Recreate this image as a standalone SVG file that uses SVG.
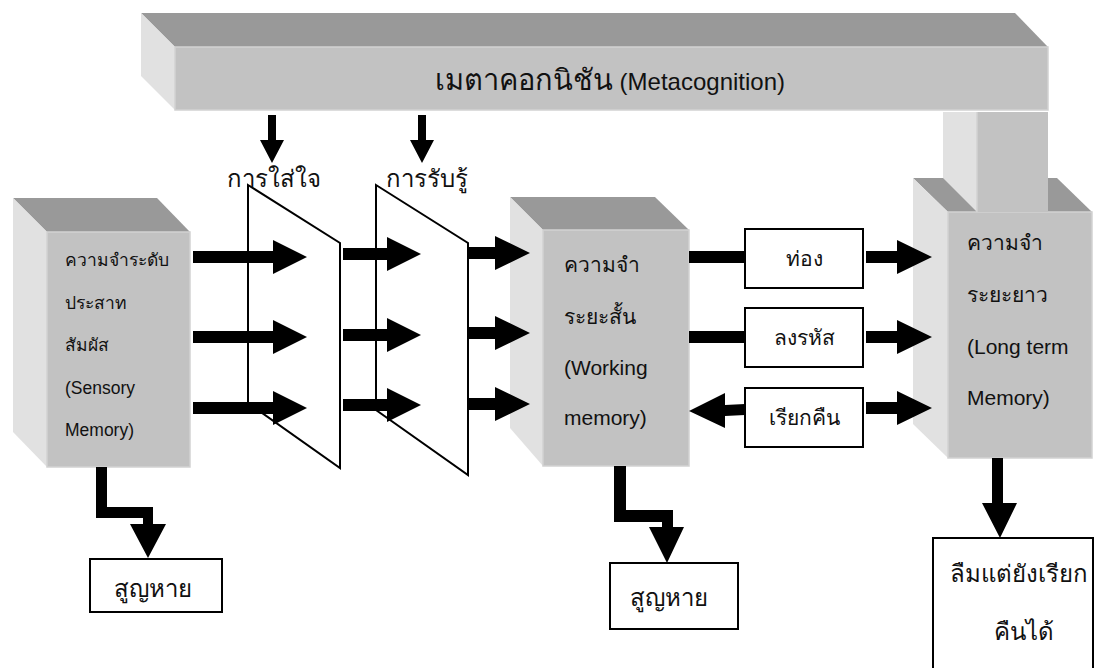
<svg xmlns="http://www.w3.org/2000/svg" width="1100" height="668" viewBox="0 0 1100 668">
<style>
.top{fill:#999999}
.front{fill:#c2c2c2;stroke:#d2d2d2;stroke-width:1.5}
.side{fill:#e1e1e1}
.blk{fill:#000}
.box{fill:#fff;stroke:#000;stroke-width:2}
.flt{fill:#fff;stroke:#000;stroke-width:2}
text{font-family:"Liberation Sans","DejaVu Sans","Noto Sans",sans-serif;fill:#111}
.big{font-size:24px}
.mid{font-size:21px}
.sm{font-size:17.5px}
.c{text-anchor:middle}
</style>
<rect width="1100" height="668" fill="#fff"/>

<g id="metacognition">
  <polygon class="top" points="141,13 1015,13 1048,47 175,47"/>
  <polygon class="side" points="141,13 175,47 175,110 141,76"/>
  <rect class="front" x="175" y="47" width="873" height="63"/>
  <text class="c" x="610" y="90" style="font-size:24px"><tspan style="font-size:29px">เมตาคอกนิชัน</tspan> (Metacognition)</text>
</g>

<g id="ltm">
  <polygon class="top" points="913,178 1057,178 1092,212 948,212"/>
  <polygon class="side" points="913,178 948,212 948,458 913,424"/>
  <rect class="front" x="948" y="212" width="144" height="246"/>
  <polygon class="side" points="943,112 977,112 977,212 943,178"/>
  <rect x="977" y="112" width="71" height="100" fill="#c2c2c2"/>
  <line x1="977" y1="112" x2="977" y2="212" stroke="#d2d2d2" stroke-width="1.5"/>
  <text class="mid" x="967" y="250">ความจำ</text>
  <text class="mid" x="967" y="302">ระยะยาว</text>
  <text class="mid" x="967" y="354">(Long term</text>
  <text class="mid" x="967" y="405">Memory)</text>
</g>

<g id="sensory">
  <polygon class="top" points="13,198 157,198 190,232 47,232"/>
  <polygon class="side" points="13,198 47,232 47,467 13,432"/>
  <rect class="front" x="47" y="232" width="143" height="235"/>
  <text class="sm" x="65" y="266">ความจำระดับ</text>
  <text class="sm" x="65" y="309">ประสาท</text>
  <text class="sm" x="65" y="351">สัมผัส</text>
  <text class="sm" x="65" y="394">(Sensory</text>
  <text class="sm" x="65" y="436">Memory)</text>
</g>

<g id="stm">
  <polygon class="top" points="510,197 655,197 689,230 543,230"/>
  <polygon class="side" points="510,197 543,230 543,466 510,428"/>
  <rect class="front" x="543" y="230" width="146" height="236"/>
  <text class="mid" x="564" y="272">ความจำ</text>
  <text class="mid" x="564" y="324">ระยะสั้น</text>
  <text class="mid" x="564" y="375">(Working</text>
  <text class="mid" x="564" y="425">memory)</text>
</g>

<g id="attention">
  <polygon class="flt" points="248,185 340,243 340,468 248,403"/>
  <text class="big c" x="274" y="187">การใส่ใจ</text>
</g>

<g id="perception">
  <polygon class="flt" points="376,185 468,243 468,475 376,410"/>
  <text class="big c" x="427" y="187">การรับรู้</text>
</g>

<g id="rehearse">
  <rect class="box" x="745" y="229" width="118" height="59"/>
  <text class="mid c" x="804" y="266">ท่อง</text>
</g>
<g id="encode">
  <rect class="box" x="745" y="308" width="118" height="59"/>
  <text class="mid c" x="804" y="345">ลงรหัส</text>
</g>
<g id="retrieve">
  <rect class="box" x="745" y="388" width="118" height="59"/>
  <text class="mid c" x="804" y="425">เรียกคืน</text>
</g>

<g id="lost1">
  <rect class="box" x="90" y="559" width="132" height="53"/>
  <text class="big c" x="153" y="597">สูญหาย</text>
</g>
<g id="lost2">
  <rect class="box" x="610" y="563" width="128" height="66"/>
  <text class="big c" x="669" y="606">สูญหาย</text>
</g>
<g id="forgot">
  <rect class="box" x="933" y="538" width="160" height="150"/>
  <text class="big c" x="1019" y="582">ลืมแต่ยังเรียก</text>
  <text class="big c" x="1024" y="640">คืนได้</text>
</g>

<g id="connectors" class="blk">
  <!-- metacognition down arrows -->
  <polygon points="268,115 276,115 276,140 284,140 272,163 260,140 268,140"/>
  <polygon points="418,115 426,115 426,140 434,140 422,163 410,140 418,140"/>
  <!-- sensory to attention -->
  <polygon points="193,251 273,251 273,240 307,257 273,274 273,263 193,263"/>
  <polygon points="193,331 273,331 273,320 307,337 273,354 273,343 193,343"/>
  <polygon points="193,402 273,402 273,391 307,408 273,425 273,414 193,414"/>
  <!-- attention to perception -->
  <polygon points="343,248 387,248 387,237 421,254 387,271 387,260 343,260"/>
  <polygon points="343,329 387,329 387,318 421,335 387,352 387,341 343,341"/>
  <polygon points="343,399 387,399 387,388 421,405 387,422 387,411 343,411"/>
  <!-- perception to STM -->
  <polygon points="468,247 495,247 495,236 530,253 495,270 495,259 468,259"/>
  <polygon points="468,327 495,327 495,316 530,333 495,350 495,339 468,339"/>
  <polygon points="468,398 495,398 495,387 530,404 495,421 495,410 468,410"/>
  <!-- STM to boxes -->
  <rect x="689" y="251" width="56" height="12"/>
  <rect x="689" y="331" width="56" height="12"/>
  <polygon points="745,404 725,405 725,393 689,411 725,428 725,416 745,415"/>
  <!-- boxes to LTM -->
  <polygon points="866,251 897,251 897,240 932,257 897,274 897,263 866,263"/>
  <polygon points="866,331 897,331 897,320 932,337 897,354 897,343 866,343"/>
  <polygon points="866,402 897,402 897,391 932,408 897,425 897,414 866,414"/>
  <!-- sensory loss -->
  <polygon points="96,467 107,467 107,507 153,507 153,524 166,524 148,558 130,524 143,524 143,518 96,518"/>
  <!-- STM loss -->
  <polygon points="614,466 626,466 626,510 673,510 673,527 684,527 667,563 649,527 662,527 662,522 614,522"/>
  <!-- LTM forget -->
  <polygon points="992,458 1003,458 1003,503 1017,503 1000,538 982,503 992,503"/>
</g>
</svg>
